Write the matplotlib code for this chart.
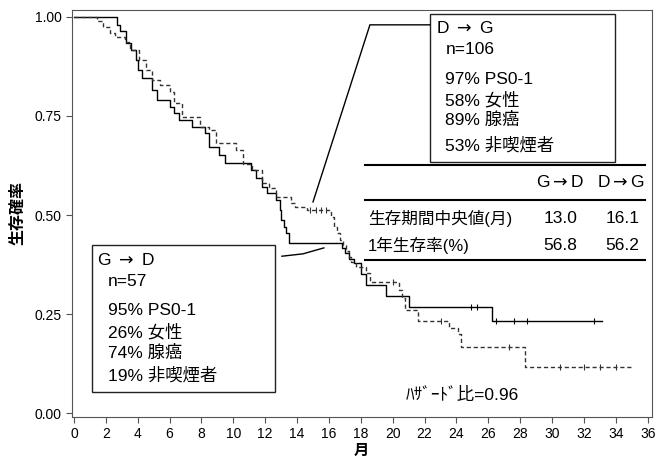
import matplotlib.pyplot as plt

plt.rcParams['font.family'] = ['Liberation Sans', 'Noto Sans CJK JP', 'DejaVu Sans']

# Kaplan-Meier curves (months, survival)
t_gd = [0, 2.7, 2.9, 3.25, 3.6, 3.9, 4.05, 4.3, 4.9, 5.2, 6.0, 6.3, 6.6, 7.4, 8.2,
        8.5, 9.1, 9.5, 11.1, 11.4, 11.8, 12.1, 12.7, 12.9, 13.0, 13.2, 13.3, 13.5,
        16.8, 17.0, 17.25, 17.6, 18.0, 18.3, 19.6, 21.0, 26.25, 33.1]
s_gd = [1.0, 0.98, 0.965, 0.934, 0.917, 0.89, 0.866, 0.846, 0.816, 0.79, 0.773,
        0.757, 0.74, 0.722, 0.707, 0.672, 0.652, 0.631, 0.614, 0.593, 0.571, 0.556,
        0.538, 0.513, 0.487, 0.47, 0.455, 0.43, 0.417, 0.404, 0.39, 0.379, 0.35,
        0.323, 0.296, 0.267, 0.232, 0.232]
cens_gd_t = [24.9, 25.3, 26.5, 27.6, 28.4, 32.6]
cens_gd_s = [0.267, 0.267, 0.232, 0.232, 0.232, 0.232]

t_dg = [0, 1.45, 1.8, 2.25, 2.55, 3.2, 3.5, 4.1, 4.5, 4.9, 5.4, 6.0, 6.3, 6.75,
        7.9, 8.5, 8.9, 10.2, 10.6, 11.2, 11.8, 12.25, 12.7, 13.6, 13.9, 14.6,
        16.1, 16.3, 16.5, 16.7, 16.85, 17.05, 17.25, 17.4, 17.7, 18.3, 18.6,
        20.4, 20.6, 20.8, 21.6, 23.5, 24.1, 24.3, 28.3, 35.1]
s_dg = [1.0, 0.99, 0.975, 0.96, 0.95, 0.937, 0.917, 0.89, 0.866, 0.84, 0.828,
        0.81, 0.782, 0.747, 0.722, 0.715, 0.682, 0.664, 0.63, 0.614, 0.581, 0.568,
        0.545, 0.53, 0.52, 0.513, 0.495, 0.47, 0.455, 0.437, 0.424, 0.41, 0.394,
        0.381, 0.369, 0.354, 0.331, 0.31, 0.29, 0.26, 0.232, 0.215, 0.2, 0.167,
        0.116, 0.116]
cens_dg_t = [14.8, 15.2, 15.5, 15.8, 20.0, 23.0, 27.3, 30.5, 32.0, 33.0, 34.0]
cens_dg_s = [0.513, 0.513, 0.513, 0.513, 0.331, 0.232, 0.167, 0.116, 0.116, 0.116, 0.116]

box_dg = ['n=106', '97% PS0-1', '58% 女性', '89% 腺癌', '53% 非喫煙者']
box_gd = ['n=57', '95% PS0-1', '26% 女性', '74% 腺癌', '19% 非喫煙者']
tbl_head = [r'G$\rightarrow$D', r'D$\rightarrow$G']
tbl_rows = ['生存期間中央値(月)', '1年生存率(%)']
tbl_gd = ['13.0', '56.8']
tbl_dg = ['16.1', '56.2']

fig = plt.figure(figsize=(6.59, 4.66), dpi=100)
ax = fig.add_axes([0.109, 0.105, 0.88, 0.874])

ax.step(t_gd, s_gd, where='post', color='black', lw=1.0)
ax.step(t_dg, s_dg, where='post', color='#333333', lw=1.0, linestyle=(0, (3, 2)))
ax.plot(cens_gd_t, cens_gd_s, '|', color='black', ms=5, mew=0.8)
ax.plot(cens_dg_t, cens_dg_s, '|', color='#333333', ms=5, mew=0.8)

ax.set_xlim(-0.13, 36.25)
ax.set_ylim(-0.01, 1.018)
ax.set_xticks(range(0, 37, 2))
ax.set_yticks([0, 0.25, 0.5, 0.75, 1.0])
ax.set_yticklabels(['0.00', '0.25', '0.50', '0.75', '1.00'])
ax.tick_params(direction='out', length=4, labelsize=10, color='#555555')
for sp in ax.spines.values():
    sp.set_color('#555555')
ax.set_ylabel('生存確率', fontsize=11.5, fontweight='bold', labelpad=6)
ax.set_xlabel('月', fontsize=11, fontweight='bold', labelpad=2)

fs = 12.5
# D -> G box
ax.add_patch(plt.Rectangle((22.33, 0.634), 11.6, 0.374, fill=False, ec='#222222', lw=1.0))
ax.text(22.7, 0.972, r'D $\rightarrow$ G', fontsize=fs, va='center')
for txt, y in zip(box_dg, [0.917, 0.841, 0.79, 0.74, 0.677]):
    ax.text(23.3, y, txt, fontsize=fs, va='center')
ax.plot([22.33, 18.57, 15.0], [0.98, 0.98, 0.533], color='black', lw=1.0)

# G -> D box
ax.add_patch(plt.Rectangle((1.13, 0.053), 11.47, 0.371, fill=False, ec='#222222', lw=1.0))
ax.text(1.44, 0.386, r'G $\rightarrow$ D', fontsize=fs, va='center')
for txt, y in zip(box_gd, [0.331, 0.26, 0.205, 0.152, 0.096]):
    ax.text(2.13, y, txt, fontsize=fs, va='center')
ax.plot([13.05, 14.37, 15.68], [0.396, 0.402, 0.417], color='black', lw=1.0)

# summary table
for y in [0.626, 0.538, 0.386]:
    ax.plot([18.26, 35.8], [y, y], color='black', lw=1.5)
ax.text(30.5, 0.583, tbl_head[0], fontsize=fs, ha='center', va='center')
ax.text(34.3, 0.583, tbl_head[1], fontsize=fs, ha='center', va='center')
for lab, a, b, y in zip(tbl_rows, tbl_gd, tbl_dg, [0.492, 0.424]):
    ax.text(18.45, y, lab, fontsize=12, va='center')
    ax.text(30.5, y, a, fontsize=fs, ha='center', va='center')
    ax.text(34.4, y, b, fontsize=fs, ha='center', va='center')

ax.text(24.4, 0.045, 'ﾊｻﾞｰﾄﾞ比=0.96', fontsize=fs, ha='center', va='center')

fig.savefig('out.png', dpi=100)
